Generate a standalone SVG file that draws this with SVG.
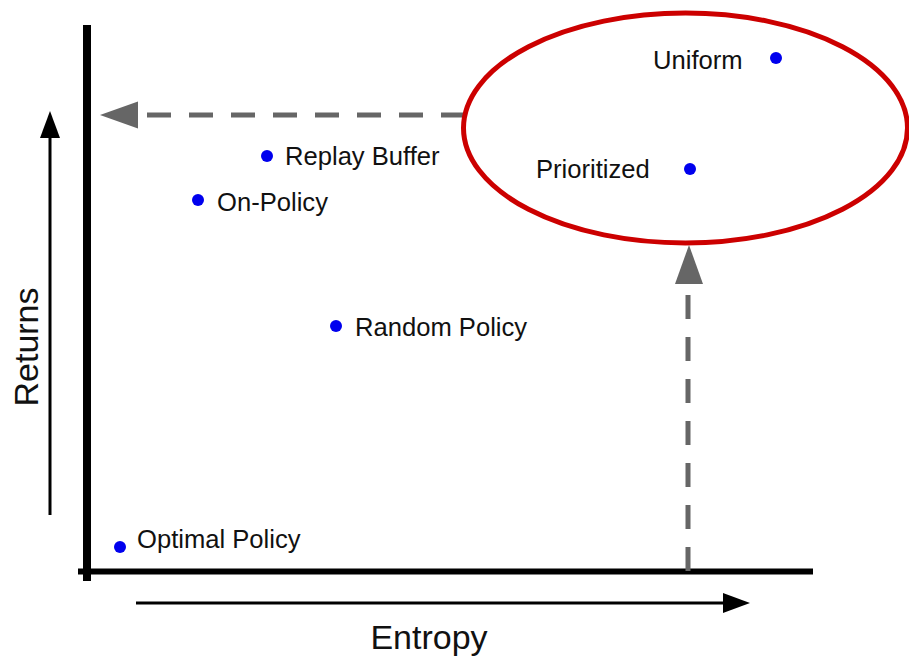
<svg xmlns="http://www.w3.org/2000/svg" width="909" height="656" viewBox="0 0 909 656">
<style>
.lbl{font-family:"Liberation Sans",Arial,sans-serif;font-size:25.6px;fill:#111}
.ax{font-family:"Liberation Sans",Arial,sans-serif;font-size:34px;fill:#111}
.pt{fill:#0000ee}
.dash{stroke:#666;stroke-width:5;stroke-dasharray:24 18;fill:none}
</style>
<rect width="909" height="656" fill="#fff"/>
<g id="axes">
<line x1="87" y1="25" x2="87" y2="581" stroke="#000" stroke-width="8"/>
<line x1="78" y1="571.5" x2="813" y2="571.5" stroke="#000" stroke-width="6"/>
<line x1="136" y1="603" x2="725" y2="603" stroke="#000" stroke-width="3"/>
<polygon points="723,593 750,603 723,613" fill="#000"/>
<line x1="50" y1="515" x2="50" y2="136" stroke="#000" stroke-width="3"/>
<polygon points="40,138 50,111 60,138" fill="#000"/>
<text class="ax" text-anchor="middle" transform="translate(38,347) rotate(-90)">Returns</text>
<text class="ax" x="429" y="649" text-anchor="middle">Entropy</text>
</g>
<g id="connectors">
<line class="dash" x1="465" y1="115" x2="147" y2="115"/>
<polygon points="100,115 138,101.5 138,128.5" fill="#666"/>
<line class="dash" x1="688" y1="571" x2="688" y2="284"/>
<polygon points="689,245 675,284 703,284" fill="#666"/>
</g>
<g id="cluster">
<ellipse cx="685.5" cy="128" rx="222" ry="115" fill="none" stroke="#cc0000" stroke-width="5"/>
</g>
<g id="uniform"><circle class="pt" cx="776" cy="58" r="6"/><text class="lbl" x="653" y="69">Uniform</text></g>
<g id="prioritized"><circle class="pt" cx="690" cy="169" r="6"/><text class="lbl" x="536" y="178">Prioritized</text></g>
<g id="replay-buffer"><circle class="pt" cx="267" cy="156" r="6"/><text class="lbl" x="285" y="165">Replay Buffer</text></g>
<g id="on-policy"><circle class="pt" cx="198" cy="200" r="6"/><text class="lbl" x="217" y="211">On-Policy</text></g>
<g id="random-policy"><circle class="pt" cx="336" cy="326" r="6"/><text class="lbl" x="355" y="336">Random Policy</text></g>
<g id="optimal-policy"><circle class="pt" cx="120" cy="547" r="6"/><text class="lbl" x="137" y="548">Optimal Policy</text></g>
</svg>
